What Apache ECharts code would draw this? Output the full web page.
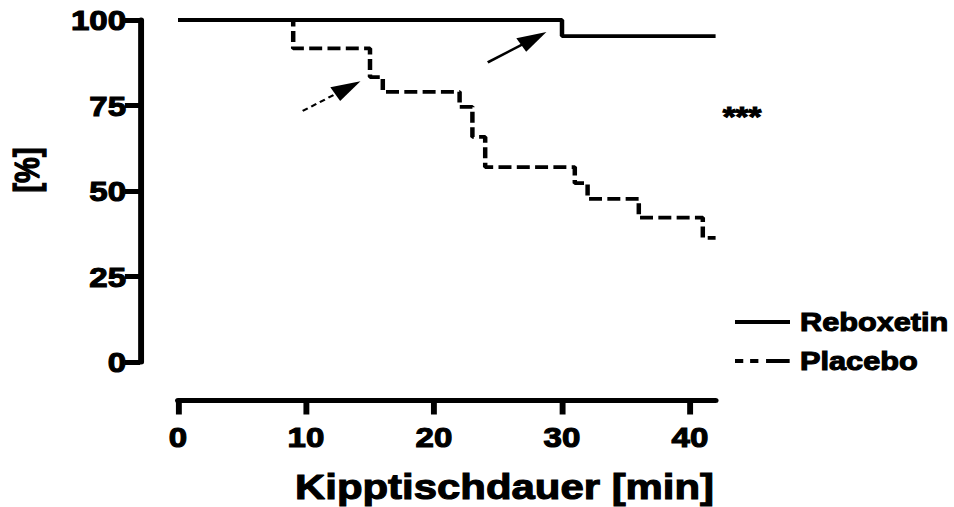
<!DOCTYPE html>
<html>
<head>
<meta charset="utf-8">
<script src="https://cdn.jsdelivr.net/npm/echarts@6/dist/echarts.min.js"></script>
<style>
  html, body { margin: 0; padding: 0; background: #fff; overflow: hidden; }
  #chart { width: 808px; height: 507px; transform-origin: 0 0; }
</style>
</head>
<body>
<div id="chart"></div>
<script>
// Tilt-table tolerance curves (step curves), rendered on a narrower canvas
// and widened horizontally so the wide bold lettering keeps its proportions.
const xTicks = [0, 10, 20, 30, 40];
const yTicks = [0, 25, 50, 75, 100];

const reboxetinTime = [0, 30, 42];
const reboxetinPct  = [100, 95.3, 95.3];

const placeboTime = [0, 9, 15, 16, 22, 23, 24, 31, 32, 36, 41, 42];
const placeboPct  = [100, 91.7, 83.3, 79.0, 74.6, 65.8, 57.0, 52.3, 47.7, 42.2, 36.3, 36.3];

const seriesNames = ['Reboxetin', 'Placebo'];

// annotation arrows, [start, head] in axis units
const arrowSolid  = [[24.2, 87.6], [27.8, 94.6]];
const arrowDashed = [[9.74, 73.4], [13.27, 80.2]];

const significance = '***';
const xTitle = 'Kipptischdauer [min]';
const yTitle = '[%]';

const STRETCH = 954 / 808;
const FONT = '"Liberation Sans", Arial, Helvetica, sans-serif';
const px = v => v / STRETCH;   // page x -> canvas x
const LINE_W = 3.8;
const PLACEBO_DASH = [11, 4.5];

const zip = (xs, ys) => xs.map((x, i) => [x, ys[i]]);

const el = document.getElementById('chart');
el.style.transform = 'scaleX(' + STRETCH + ')';
const chart = echarts.init(el, null, { renderer: 'svg', width: 808, height: 507 });

const boldText = size => ({
  color: '#000', fontFamily: FONT, fontWeight: 'bold', fontSize: size,
  textBorderColor: '#000', textBorderWidth: 1.1
});
const boldGraphicText = (text, size, extra) => Object.assign({
  text: text, fill: '#000', stroke: '#000', lineWidth: 1.1,
  fontFamily: FONT, fontWeight: 'bold', fontSize: size
}, extra);

const axisCommon = {
  type: 'value',
  splitLine: { show: false },
  axisLine: { show: true, onZero: false, lineStyle: { color: '#000', width: 5 } },
  axisTick: { show: true, inside: false, lineStyle: { color: '#000', width: 5 } },
  axisLabel: boldText(28)
};

// hand-built key: line sample + bold label for each curve
const keyRows = [
  { name: seriesNames[0], y: 322, dash: null },
  { name: seriesNames[1], y: 361, dash: [7, 5.8, 7, 6.5, 20, 10] }
];
const keyGraphics = [];
keyRows.forEach(r => {
  keyGraphics.push({
    type: 'line',
    shape: { x1: px(735), y1: r.y, x2: px(790), y2: r.y },
    style: { stroke: '#000', lineWidth: LINE_W, lineDash: r.dash }
  });
  keyGraphics.push({
    type: 'text', x: px(800), y: r.y,
    style: boldGraphicText(r.name, 26, { align: 'left', verticalAlign: 'middle' })
  });
});

chart.setOption({
  animation: false,
  backgroundColor: '#fff',
  grid: { left: px(178), top: 20, width: px(537.6), height: 342, containLabel: false },
  xAxis: Object.assign({}, axisCommon, {
    min: 0, max: 42, offset: 38.5,
    axisTick: Object.assign({}, axisCommon.axisTick, { length: 14, customValues: xTicks }),
    axisLabel: Object.assign({}, axisCommon.axisLabel, { margin: 22, customValues: xTicks })
  }),
  yAxis: Object.assign({}, axisCommon, {
    min: 0, max: 100, offset: 32,
    axisTick: Object.assign({}, axisCommon.axisTick, { length: 13, customValues: yTicks }),
    axisLabel: Object.assign({}, axisCommon.axisLabel, { margin: 12, customValues: yTicks })
  }),
  series: [
    {
      name: seriesNames[0], type: 'line', step: 'end', symbol: 'none', z: 3,
      data: zip(reboxetinTime, reboxetinPct),
      lineStyle: { color: '#000', width: LINE_W, type: 'solid' },
      itemStyle: { color: '#000' }
    },
    {
      name: seriesNames[1], type: 'line', step: 'end', symbol: 'none', z: 2,
      data: zip(placeboTime, placeboPct),
      lineStyle: { color: '#000', width: LINE_W, type: PLACEBO_DASH },
      itemStyle: { color: '#000' }
    },
    {
      type: 'lines', coordinateSystem: 'cartesian2d', silent: true, z: 4,
      symbol: ['none', 'triangle'], symbolSize: [0, [16, 25]],
      lineStyle: { color: '#000', width: 2.5, type: 'solid', opacity: 1, curveness: 0 },
      itemStyle: { color: '#000' },
      data: [{ coords: arrowSolid }]
    },
    {
      type: 'lines', coordinateSystem: 'cartesian2d', silent: true, z: 4,
      symbol: ['none', 'triangle'], symbolSize: [0, [16, 25]],
      lineStyle: { color: '#000', width: 2, type: [5, 3.5], opacity: 1, curveness: 0 },
      itemStyle: { color: '#000' },
      data: [{ coords: arrowDashed }]
    }
  ],
  graphic: [
    {
      type: 'text', x: px(295), y: 487,
      style: boldGraphicText(xTitle, 35.5, { align: 'left', verticalAlign: 'middle' })
    },
    {
      type: 'text', x: px(27), y: 170, rotation: Math.PI / 2,
      style: boldGraphicText(yTitle, 29, { align: 'center', verticalAlign: 'middle' })
    },
    {
      type: 'text', x: px(742), y: 116,
      style: boldGraphicText(significance, 28, { align: 'center', verticalAlign: 'middle' })
    }
  ].concat(keyGraphics)
});
</script>
</body>
</html>
